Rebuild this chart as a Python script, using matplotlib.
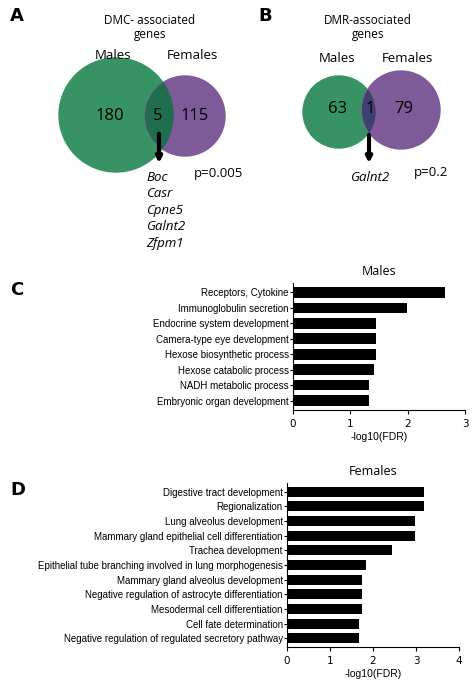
import matplotlib.pyplot as plt
from matplotlib.patches import Circle

# Venn data
dmc_counts = ["180", "5", "115"]
dmc_genes = ["Boc", "Casr", "Cpne5", "Galnt2", "Zfpm1"]
dmr_counts = ["63", "1", "79"]
dmr_genes = ["Galnt2"]

# GO enrichment data
males_terms = ["Receptors, Cytokine", "Immunoglobulin secretion", "Endocrine system development",
               "Camera-type eye development", "Hexose biosynthetic process", "Hexose catabolic process",
               "NADH metabolic process", "Embryonic organ development"]
males_vals = [2.65, 1.99, 1.44, 1.44, 1.44, 1.41, 1.33, 1.33]
females_terms = ["Digestive tract development", "Regionalization", "Lung alveolus development",
                 "Mammary gland epithelial cell differentiation", "Trachea development",
                 "Epithelial tube branching involved in lung morphogenesis",
                 "Mammary gland alveolus development", "Negative regulation of astrocyte differentiation",
                 "Mesodermal cell differentiation", "Cell fate determination",
                 "Negative regulation of regulated secretory pathway"]
females_vals = [3.19, 3.19, 2.98, 2.98, 2.44, 1.84, 1.75, 1.75, 1.75, 1.67, 1.67]

GREEN = '#379364'
PURPLE = '#7e5a98'
W, H = 474, 685

fig = plt.figure(figsize=(W / 100, H / 100), dpi=100)
bg = fig.add_axes([0, 0, 1, 1])
bg.set_xlim(0, W)
bg.set_ylim(H, 0)
bg.axis('off')


def venn(c1, r1, c2, r2, overlap_col, counts, xs, y):
    g = Circle(c1, r1, color=GREEN, zorder=1)
    p = Circle(c2, r2, color=PURPLE, zorder=1)
    bg.add_patch(g)
    bg.add_patch(p)
    ov = Circle(c1, r1, color=overlap_col, zorder=2)
    bg.add_patch(ov)
    ov.set_clip_path(Circle(c2, r2, transform=bg.transData))
    for t, x in zip(counts, xs):
        bg.text(x, y, t, ha='center', va='center', fontsize=12, family='Open Sans', zorder=3)


fnt = dict(family='Open Sans', fontsize=9.5)

# panel A
bg.text(10, 16, "A", fontsize=13, fontweight='bold', va='center', family='DejaVu Sans')
bg.text(150, 27, "DMC- associated\ngenes", ha='center', va='center', linespacing=1.1, fontsize=8.5, family='Open Sans')
bg.text(113, 55, "Males", ha='center', va='center', **fnt)
bg.text(192, 55, "Females", ha='center', va='center', **fnt)
venn((116, 115), 57, (185, 116), 40, '#1f6e4e', dmc_counts, [110, 158, 195], 116)
bg.annotate("", xy=(159, 166), xytext=(159, 131),
            arrowprops=dict(arrowstyle='-|>', lw=3, color='black', mutation_scale=8), zorder=4)
for i, gname in enumerate(dmc_genes):
    bg.text(146, 177 + i * 16.5, gname, style='italic', va='center', **fnt)
bg.text(194, 173, "p=0.005", va='center', **fnt)

# panel B
bg.text(258, 16, "B", fontsize=13, fontweight='bold', va='center', family='DejaVu Sans')
bg.text(368, 27, "DMR-associated\ngenes", ha='center', va='center', linespacing=1.1, fontsize=8.5, family='Open Sans')
bg.text(337, 58, "Males", ha='center', va='center', **fnt)
bg.text(407, 58, "Females", ha='center', va='center', **fnt)
venn((339, 112), 36, (401, 110), 39, '#3f3f72', dmr_counts, [338, 370, 404], 109)
bg.annotate("", xy=(369, 166), xytext=(369, 132),
            arrowprops=dict(arrowstyle='-|>', lw=3, color='black', mutation_scale=8), zorder=4)
bg.text(370, 177, dmr_genes[0], style='italic', ha='center', va='center', **fnt)
bg.text(414, 172, "p=0.2", va='center', **fnt)

bg.text(10, 290, "C", fontsize=13, fontweight='bold', va='center', family='DejaVu Sans')
bg.text(10, 490, "D", fontsize=13, fontweight='bold', va='center', family='DejaVu Sans')


def bars(rect, terms, vals, xmax, title):
    ax = fig.add_axes(rect)
    y = list(range(len(terms)))
    ax.barh(y, vals, height=0.68, color='black')
    ax.set_ylim(len(terms) - 0.4, -0.6)
    ax.set_xlim(0, xmax)
    ax.set_xticks(range(xmax + 1))
    ax.set_yticks(y)
    ax.set_yticklabels(terms, fontsize=7, family='Liberation Sans')
    ax.tick_params(axis='x', labelsize=7.5, length=3)
    ax.tick_params(axis='y', length=2, pad=1)
    for s in ['top', 'right']:
        ax.spines[s].set_visible(False)
    ax.set_xlabel("-log10(FDR)", fontsize=7.5, family='Liberation Sans', labelpad=2)
    ax.set_title(title, fontsize=9, family='Open Sans', pad=6)
    return ax


bars([293 / W, 1 - 410 / H, 172 / W, 127 / H], males_terms, males_vals, 3, "Males")
bars([287 / W, 1 - 647 / H, 172 / W, 164 / H], females_terms, females_vals, 4, "Females")

fig.savefig("out.png", dpi=100)
